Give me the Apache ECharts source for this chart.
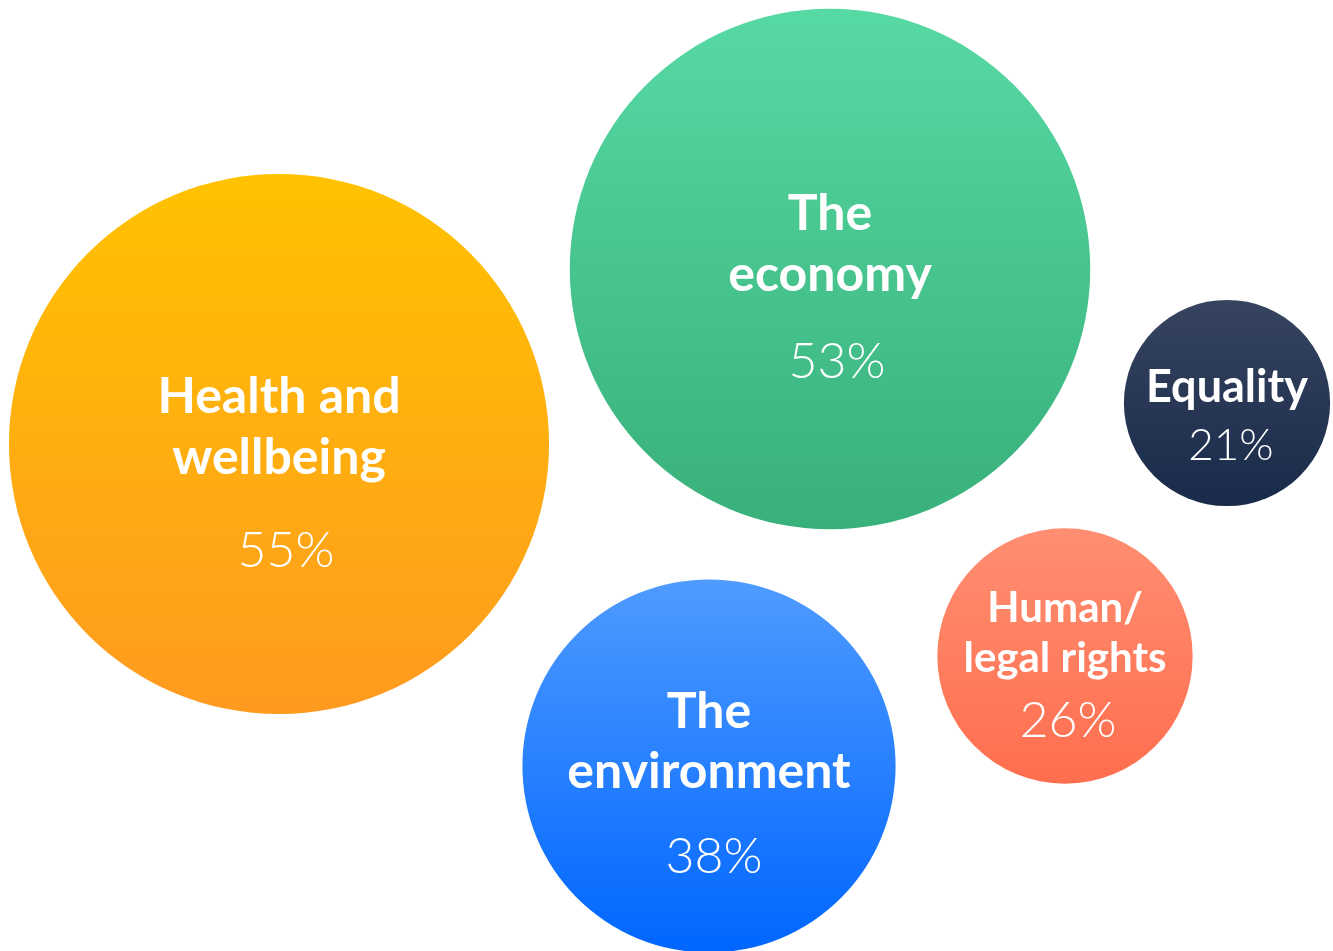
<!DOCTYPE html>
<html>
<head>
<meta charset="utf-8">
<script src="https://cdn.jsdelivr.net/npm/echarts@6/dist/echarts.min.js"></script>
<style>
  html, body { margin: 0; padding: 0; background: #fff; }
  #chart { width: 1333px; height: 951px; }
</style>
</head>
<body>
<div id="chart"></div>
<script>
// topics and share of respondents (%)
var topics = ['Health and\nwellbeing', 'The\neconomy', 'Equality', 'Human/\nlegal rights', 'The\nenvironment']
var shares = [55, 53, 21, 26, 38]
// bubble centres on the page grid (x right, y down)
var centreX = [279, 830, 1227, 1065, 709]
var centreY = [444, 269, 403, 656, 766]

var gradients = [
  ['#ffc200', '#ff9a1f'],
  ['#57d9a3', '#38b07a'],
  ['#36445f', '#192a4a'],
  ['#ff8e72', '#ff6e4e'],
  ['#4f9bff', '#0066ff']
]
// label sizing: [name size, name line height, pct size, pct line height, offset y, pct shift]
var labelFmt = [
  [50, 61, 50, 125, 46, 14],
  [50, 61, 50, 113, 32, 14],
  [45, 50, 44, 68, 18, 8],
  [42, 50, 50, 76, 15, 6],
  [50, 60, 50, 110, 31, 10]
]

var chart = echarts.init(document.getElementById('chart'))

var data = shares.map(function (v, i) {
  var f = labelFmt[i]
  return {
    value: [centreX[i], centreY[i], v],
    name: topics[i],
    itemStyle: {
      opacity: 1,
      color: new echarts.graphic.LinearGradient(0, 0, 0, 1, [
        {offset: 0, color: gradients[i][0]},
        {offset: 1, color: gradients[i][1]}
      ])
    },
    label: {
      offset: [0, f[4]],
      rich: {
        n: {fontSize: f[0], lineHeight: f[1], fontWeight: 'bold', color: '#fff', fontFamily: 'Lato'},
        p: {fontSize: f[2], lineHeight: f[3], fontWeight: 300, color: '#fff', fontFamily: 'Lato', padding: [0, 0, 0, f[5]]}
      }
    }
  }
})

chart.setOption({
  animation: false,
  grid: {left: 0, right: 0, top: 0, bottom: 0},
  xAxis: {type: 'value', min: 0, max: 1333, show: false},
  yAxis: {type: 'value', min: 0, max: 951, inverse: true, show: false},
  series: [{
    type: 'scatter',
    clip: false,
    symbol: 'circle',
    symbolSize: function (d) { return d[2] * 9.82 },
    label: {
      show: true,
      position: 'inside',
      align: 'center',
      verticalAlign: 'middle',
      formatter: function (p) {
        var lines = p.name.split('\n').map(function (s) { return '{n|' + s + '}' })
        return lines.join('\n') + '\n{p|' + p.value[2] + '%}'
      }
    },
    emphasis: {disabled: true},
    data: data
  }]
})
</script>
</body>
</html>
